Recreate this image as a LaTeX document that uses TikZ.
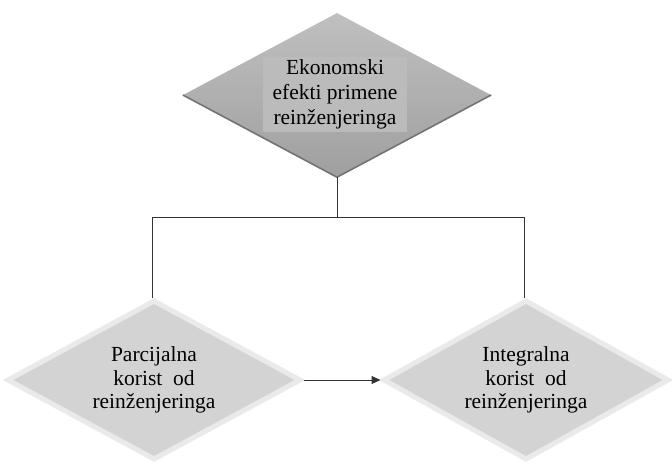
\documentclass[tikz,border=0pt]{standalone}
\usepackage{fontspec}
\setmainfont{Liberation Serif}
\usetikzlibrary{shapes.geometric,arrows.meta,shadows}
\definecolor{rimgray}{HTML}{EAEAEA}
\definecolor{lowfill}{HTML}{D3D3D3}
\definecolor{boxgray}{HTML}{BBBBBB}
\definecolor{linegray}{HTML}{333333}
\tikzset{
  lowdiamond/.style={shape=diamond, shape aspect=1.83, inner sep=0pt, fill=lowfill, draw=rimgray, line width=5pt,
    drop shadow={shadow xshift=1.5pt, shadow yshift=-1.5pt, opacity=0.25},
    font=\fontsize{21.5}{23.5}\selectfont, align=center},
  topdiamond/.style={shape=diamond, inner sep=0pt, top color=gray!50, bottom color=gray!75, draw=none},
  textbox/.style={rectangle, fill=boxgray, inner sep=0pt, minimum width=144pt, minimum height=75pt,
    font=\fontsize{21.5}{25}\selectfont, align=center},
  conn/.style={draw=linegray, line width=1pt}
}
\begin{document}
\begin{tikzpicture}[x=1pt,y=-1pt]
\useasboundingbox (0,0) rectangle (672,463);
\node[topdiamond, minimum width=308pt, minimum height=164pt] (top) at (337,95) {};
\draw[draw=gray!90!black, line width=1.6pt, line join=round] (top.west) -- (top.south) -- (top.east);
\node[textbox] (toptext) at (335,94.5) {Ekonomski\\efekti primene\\reinženjeringa};
\node[lowdiamond, minimum width=294pt, minimum height=160pt] (left) at (154,380) {Parcijalna\\korist\enspace od\\reinženjeringa};
\node[lowdiamond, minimum width=286pt, minimum height=160pt] (right) at (526,380) {Integralna\\korist\enspace od\\reinženjeringa};
\coordinate (j) at (337,217);
\coordinate (jl) at (152,217);
\coordinate (jr) at (524,217);
\draw[conn] (top.south) -- (j);
\draw[conn] (jl) -- (jr);
\draw[conn] (jl) -- (left.north -| jl);
\draw[conn] (jr) -- (right.north -| jr);
\draw[conn, -{Triangle[length=9pt,width=8pt]}] (left.east) -- (right.west);
\end{tikzpicture}
\end{document}
